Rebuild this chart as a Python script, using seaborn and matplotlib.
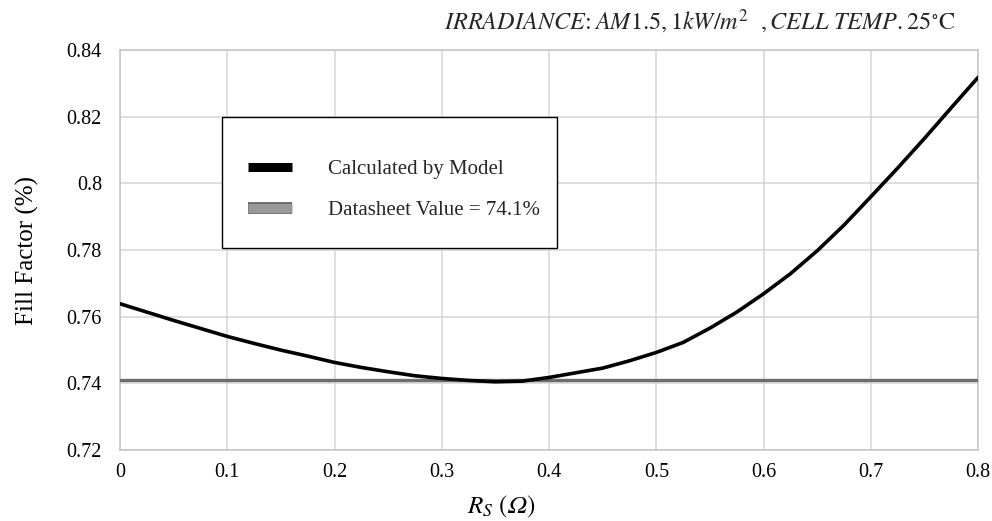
import matplotlib
matplotlib.use("Agg")
import matplotlib.pyplot as plt
import matplotlib.patheffects as pe
from matplotlib.patches import Rectangle
import seaborn as sns
import pandas as pd

# series resistance (ohm) and fill factor
rs_values = [0.000, 0.025, 0.050, 0.075, 0.100, 0.125, 0.150, 0.175, 0.200,
             0.225, 0.250, 0.275, 0.300, 0.325, 0.350, 0.375, 0.400, 0.425,
             0.450, 0.475, 0.500, 0.525, 0.550, 0.575, 0.600, 0.625, 0.650,
             0.675, 0.700, 0.725, 0.750, 0.775, 0.800]
ff_model = [0.7639, 0.7614, 0.7589, 0.7565, 0.7541, 0.7520, 0.7500, 0.7482, 0.7463,
            0.7448, 0.7435, 0.7423, 0.7415, 0.7409, 0.7405, 0.7407, 0.7418, 0.7432,
            0.7446, 0.7468, 0.7493, 0.7523, 0.7566, 0.7614, 0.7669, 0.7729, 0.7798,
            0.7875, 0.7960, 0.8046, 0.8135, 0.8227, 0.8318]
datasheet_ff = 0.741
x_ticks = [0, 0.1, 0.2, 0.3, 0.4, 0.5, 0.6, 0.7, 0.8]
x_ticklabels = ["0", "0.1", "0.2", "0.3", "0.4", "0.5", "0.6", "0.7", "0.8"]
y_ticks = [0.72, 0.74, 0.76, 0.78, 0.8, 0.82, 0.84]
y_ticklabels = ["0.72", "0.74", "0.76", "0.78", "0.8", "0.82", "0.84"]

sns.set_theme(style="whitegrid")
plt.rcParams["font.family"] = ["Liberation Serif", "DejaVu Serif"]
plt.rcParams["mathtext.fontset"] = "stix"

df = pd.DataFrame({"rs": rs_values, "ff": ff_model})
ref = pd.DataFrame({"rs": [rs_values[0], rs_values[-1]], "ff": [datasheet_ff, datasheet_ff]})

fig = plt.figure(figsize=(9.92, 5.21), dpi=100)
ax = fig.add_axes([0.121, 0.136, 0.865, 0.768])

sns.lineplot(data=ref, x="rs", y="ff", ax=ax, color="#6e6e6e", linewidth=2.4,
             label="Datasheet Value = 74.1%", zorder=3)
sns.lineplot(data=df, x="rs", y="ff", ax=ax, color="black", linewidth=2.6,
             label="Calculated by Model", zorder=4)

ax.set_xlim(0, 0.8)
ax.set_ylim(0.72, 0.84)
ax.set_xticks(x_ticks)
ax.set_xticklabels(x_ticklabels)
ax.set_yticks(y_ticks)
ax.set_yticklabels(y_ticklabels)
ax.tick_params(axis="both", length=0, labelsize=14.5, colors="black")
ax.tick_params(axis="y", pad=13)
ax.tick_params(axis="x", pad=9)
ax.grid(True, color="#d4d4d4", linewidth=1.1)
for s in ax.spines.values():
    s.set_color("#c4c4c4")
    s.set_linewidth(1.1)

ax.set_ylabel("Fill Factor (%)", fontsize=18, color="black")
ax.yaxis.set_label_coords(-0.095, 0.5)
ax.set_xlabel(r"$R_S\ (𝛺)$", fontsize=18, color="black")
ax.xaxis.set_label_coords(0.445, -0.108)

fig.text(0.963, 0.958,
         r"$IRRADIANCE\!:AM1.5,1kW/m^2\ \ ,CELL\ TEMP.25^{\circ}\mathrm{C}$",
         ha="right", va="center", fontsize=17.5)

# legend box
ax.add_patch(Rectangle((0.119, 0.505), 0.39, 0.3275, transform=ax.transAxes,
                       facecolor="white", edgecolor="black", linewidth=1.0, zorder=5))
handles, labels = ax.get_legend_handles_labels()
order = [1, 0]
leg = ax.legend([handles[i] for i in order], [labels[i] for i in order],
                loc="upper left", bbox_to_anchor=(0.137, 0.753), frameon=False,
                fontsize=15, handlelength=2.1, handletextpad=1.75, labelspacing=1.05,
                borderpad=0)
leg.set_zorder(6)
for line in leg.get_lines():
    line.set_linewidth(6.5)
    line.set_solid_capstyle("butt")
gray = leg.get_lines()[1]
gray.set_color("#999999")
gray.set_path_effects([pe.Stroke(linewidth=8.5, foreground="#6a6a6a"), pe.Normal()])

fig.savefig("out.png", dpi=100)
